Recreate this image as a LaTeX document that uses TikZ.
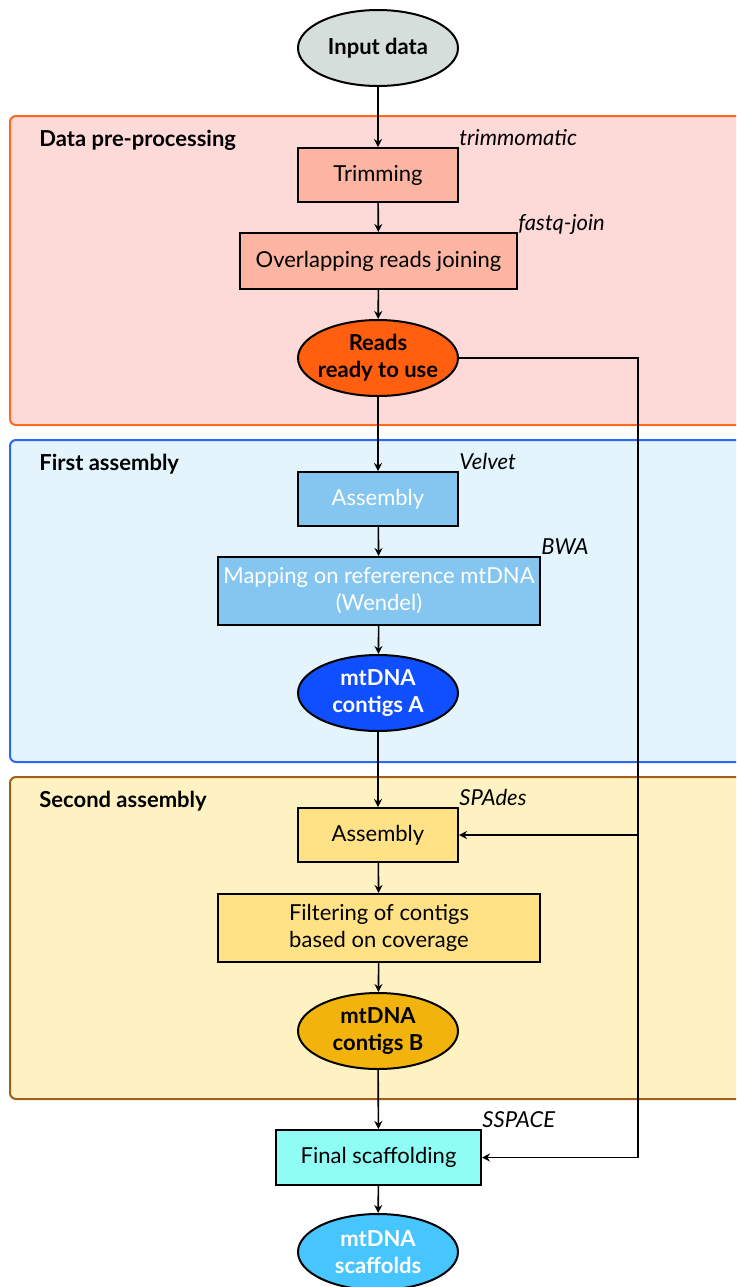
\documentclass[tikz,border=0pt]{standalone}
\usepackage{fontspec}
\setmainfont{Lato}
\usetikzlibrary{shapes.geometric,arrows.meta}

\definecolor{inputfill}{HTML}{D5DEDB}
\definecolor{prebg}{HTML}{FDD9D7}
\definecolor{preline}{HTML}{FF6A1A}
\definecolor{prebox}{HTML}{FBB5A2}
\definecolor{preell}{HTML}{FF5F0E}
\definecolor{firstbg}{HTML}{E3F4FC}
\definecolor{firstline}{HTML}{2B68F5}
\definecolor{firstbox}{HTML}{85C6F0}
\definecolor{firstell}{HTML}{0F4FFF}
\definecolor{secbg}{HTML}{FEF2C2}
\definecolor{secline}{HTML}{A0601A}
\definecolor{secbox}{HTML}{FFE285}
\definecolor{secell}{HTML}{F2B30C}
\definecolor{finalbox}{HTML}{8FFDF4}
\definecolor{finalell}{HTML}{47C5FF}

\newcommand{\flowsize}{\fontsize{11}{13.5}\selectfont}

\tikzset{
  procbox/.style={draw, line width=1pt, minimum width=80pt, minimum height=27pt,
    inner sep=0pt, align=center, font=\flowsize},
  dataell/.style={ellipse, draw, line width=1pt, minimum width=80pt,
    minimum height=38pt, inner xsep=-2pt, inner ysep=0pt, align=center,
    font=\flowsize\bfseries},
  panel/.style={rounded corners=3pt, line width=1pt},
  tool/.style={anchor=base west, inner sep=0pt, font=\flowsize\itshape, yshift=1pt},
  paneltitle/.style={anchor=base west, inner sep=0pt, font=\flowsize\bfseries},
  arr/.style={-{Stealth[length=4pt,width=4pt]}, line width=0.8pt},
}

\begin{document}
\begin{tikzpicture}[x=0.5pt, y=-0.5pt]
   \useasboundingbox (0,0) rectangle (736,1287);
   \clip (0,0) rectangle (736,1287);

   % Panels
   \draw[panel, draw=preline, fill=prebg] (10,116) rectangle (760,425);
   \node[paneltitle] (pretitle) at (39,146) {Data pre-processing};
   \draw[panel, draw=firstline, fill=firstbg] (10,440) rectangle (760,762);
   \node[paneltitle] (firsttitle) at (39,470) {First assembly};
   \draw[panel, draw=secline, fill=secbg] (10,777) rectangle (760,1099);
   \node[paneltitle] (sectitle) at (39,807) {Second assembly};

   % Input
   \node[dataell, fill=inputfill] (input) at (378,48) {Input data};

   % Data pre-processing
   \node[procbox, fill=prebox] (trim) at (378,175) {Trimming};
   \node[tool] at (trim.north east) {trimmomatic};
   \node[procbox, fill=prebox, minimum width=138.5pt, minimum height=28pt]
      (join) at (378.5,261) {Overlapping reads joining};
   \node[tool] at (join.north east) {fastq-join};
   \node[dataell, fill=preell] (reads) at (378,358) {Reads\\ready to use};

   % First assembly
   \node[procbox, fill=firstbox, text=white] (asmA) at (378,499) {Assembly};
   \node[tool] at (asmA.north east) {Velvet};
   \node[procbox, fill=firstbox, text=white, minimum width=161pt, minimum height=34pt]
      (map) at (379,591) {Mapping on refererence mtDNA\\(Wendel)};
   \node[tool] at (map.north east) {BWA};
   \node[dataell, fill=firstell, text=white] (contigA) at (378,693) {mtDNA\\contigs A};

   % Second assembly
   \node[procbox, fill=secbox] (asmB) at (378,835) {Assembly};
   \node[tool] at (asmB.north east) {SPAdes};
   \node[procbox, fill=secbox, minimum width=161pt, minimum height=34pt]
      (filt) at (379,928) {Filtering of contigs\\based on coverage};
   \node[dataell, fill=secell] (contigB) at (378,1031) {mtDNA\\contigs B};

   % Final
   \node[procbox, fill=finalbox, minimum width=102.5pt, minimum height=27.5pt]
      (final) at (378.5,1157.5) {Final scaffolding};
   \node[tool] at (final.north east) {SSPACE};
   \node[dataell, fill=finalell, text=white] (scaff) at (378,1252) {mtDNA\\scaffolds};

   % Connectors
   \draw[arr] (input) -- (trim);
   \draw[arr] (trim) -- (join);
   \draw[arr] (join) -- (reads);
   \draw[arr] (reads) -- (asmA);
   \draw[arr] (asmA) -- (map);
   \draw[arr] (map) -- (contigA);
   \draw[arr] (contigA) -- (asmB);
   \draw[arr] (asmB) -- (filt);
   \draw[arr] (filt) -- (contigB);
   \draw[arr] (contigB) -- (final);
   \draw[arr] (final) -- (scaff);
   \coordinate (split) at (638,835);
   \draw[arr] (reads.east) -| (split) |- (final.east);
   \draw[arr] (split) -- (asmB.east);
\end{tikzpicture}
\end{document}
